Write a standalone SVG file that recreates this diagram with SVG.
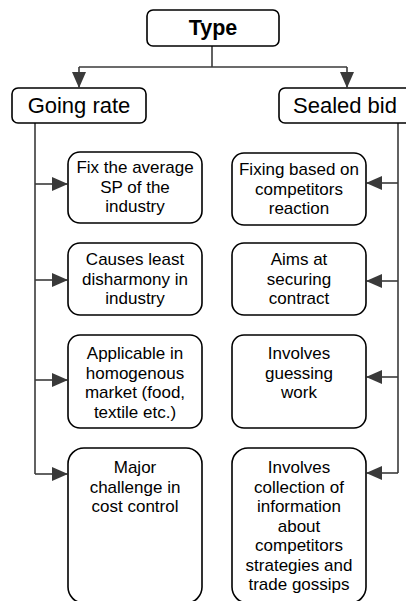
<svg xmlns="http://www.w3.org/2000/svg" width="406" height="601" viewBox="0 0 406 601">
  <style>
    .box { fill: #ffffff; stroke: #000000; stroke-width: 1.6; }
    .link { fill: none; stroke: #3a3a3a; stroke-width: 1.6; }
    .head { font-family: "Liberation Sans", Arial, sans-serif; font-size: 22px; fill: #000; text-anchor: middle; }
    .title { font-family: "Liberation Sans", Arial, sans-serif; font-size: 21.5px; font-weight: bold; fill: #000; text-anchor: middle; }
    .lbl { font-family: "Liberation Sans", Arial, sans-serif; font-size: 17px; fill: #000; text-anchor: middle; }
  </style>
  <defs>
    <marker id="arrow" viewBox="0 0 16 14" refX="15" refY="7" markerWidth="16" markerHeight="14" markerUnits="userSpaceOnUse" orient="auto">
      <path d="M0,0 L16,7 L0,14 Z" fill="#3a3a3a"/>
    </marker>
  </defs>

  <rect width="406" height="601" fill="#ffffff"/>

  <!-- connectors -->
  <g id="connectors">
    <path class="link" d="M212,46 V67"/>
    <path class="link" d="M79,67 H347"/>
    <path class="link" d="M79,67 V87" marker-end="url(#arrow)"/>
    <path class="link" d="M347,67 V87" marker-end="url(#arrow)"/>

    <path class="link" d="M35,123 V474"/>
    <path class="link" d="M35,184 H67" marker-end="url(#arrow)"/>
    <path class="link" d="M35,280 H67" marker-end="url(#arrow)"/>
    <path class="link" d="M35,380 H67" marker-end="url(#arrow)"/>
    <path class="link" d="M35,474 H67" marker-end="url(#arrow)"/>

    <path class="link" d="M398,123 V473"/>
    <path class="link" d="M398,183 H367" marker-end="url(#arrow)"/>
    <path class="link" d="M398,281 H367" marker-end="url(#arrow)"/>
    <path class="link" d="M398,377 H367" marker-end="url(#arrow)"/>
    <path class="link" d="M398,473 H367" marker-end="url(#arrow)"/>
  </g>

  <g id="type">
    <rect class="box" x="147" y="10" width="132" height="36" rx="6"/>
    <text class="title" x="213" y="35">Type</text>
  </g>

  <g id="going-rate">
    <rect class="box" x="12" y="88" width="134" height="35" rx="6"/>
    <text class="head" x="79" y="113">Going rate</text>
  </g>

  <g id="sealed-bid">
    <rect class="box" x="279" y="88" width="134" height="35" rx="6"/>
    <text class="head" x="345" y="113">Sealed bid</text>
  </g>

  <g id="gr-1">
    <rect class="box" x="68" y="152" width="134" height="71" rx="12"/>
    <text class="lbl" x="135" y="173">Fix the average</text>
    <text class="lbl" x="135" y="192.5">SP of the</text>
    <text class="lbl" x="135" y="212">industry</text>
  </g>

  <g id="gr-2">
    <rect class="box" x="68" y="243" width="134" height="72" rx="12"/>
    <text class="lbl" x="135" y="265">Causes least</text>
    <text class="lbl" x="135" y="284.5">disharmony in</text>
    <text class="lbl" x="135" y="304">industry</text>
  </g>

  <g id="gr-3">
    <rect class="box" x="68" y="335" width="134" height="93" rx="12"/>
    <text class="lbl" x="135" y="359">Applicable in</text>
    <text class="lbl" x="135" y="378.5">homogenous</text>
    <text class="lbl" x="135" y="398">market (food,</text>
    <text class="lbl" x="135" y="417.5">textile etc.)</text>
  </g>

  <g id="gr-4">
    <rect class="box" x="68" y="448" width="134" height="155" rx="16"/>
    <text class="lbl" x="135" y="473">Major</text>
    <text class="lbl" x="135" y="492.5">challenge in</text>
    <text class="lbl" x="135" y="512">cost control</text>
  </g>

  <g id="sb-1">
    <rect class="box" x="232" y="153" width="134" height="72" rx="12"/>
    <text class="lbl" x="299" y="175">Fixing based on</text>
    <text class="lbl" x="299" y="194.5">competitors</text>
    <text class="lbl" x="299" y="214">reaction</text>
  </g>

  <g id="sb-2">
    <rect class="box" x="232" y="243" width="134" height="72" rx="12"/>
    <text class="lbl" x="299" y="265">Aims at</text>
    <text class="lbl" x="299" y="284.5">securing</text>
    <text class="lbl" x="299" y="304">contract</text>
  </g>

  <g id="sb-3">
    <rect class="box" x="232" y="335" width="134" height="93" rx="12"/>
    <text class="lbl" x="299" y="359">Involves</text>
    <text class="lbl" x="299" y="378.5">guessing</text>
    <text class="lbl" x="299" y="398">work</text>
  </g>

  <g id="sb-4">
    <rect class="box" x="232" y="448" width="134" height="155" rx="16"/>
    <text class="lbl" x="299" y="473">Involves</text>
    <text class="lbl" x="299" y="492.5">collection of</text>
    <text class="lbl" x="299" y="512">information</text>
    <text class="lbl" x="299" y="531.5">about</text>
    <text class="lbl" x="299" y="551">competitors</text>
    <text class="lbl" x="299" y="570.5">strategies and</text>
    <text class="lbl" x="299" y="590">trade gossips</text>
  </g>
</svg>
